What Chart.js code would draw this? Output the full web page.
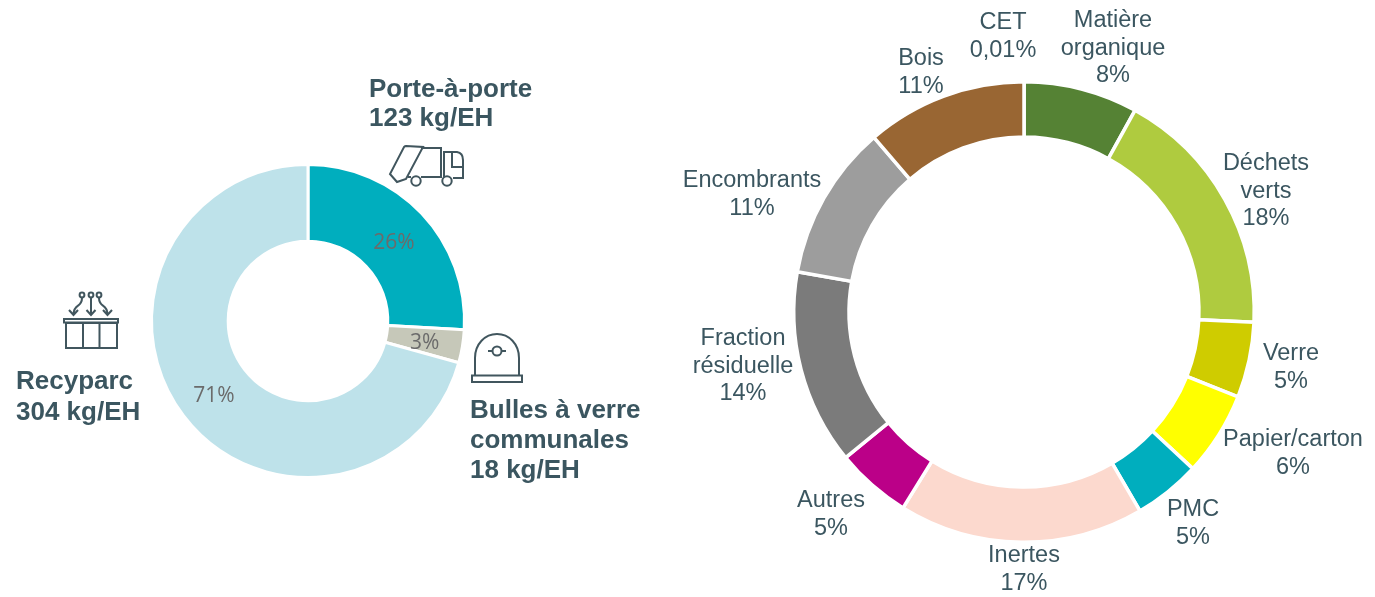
<!DOCTYPE html>
<html lang="fr">
<head>
<meta charset="utf-8">
<title>Collecte des déchets</title>
<script src="https://cdn.jsdelivr.net/npm/chart.js@4"></script>
<style>
  html, body { margin: 0; background: #fff; overflow: hidden; }
  canvas { position: absolute; top: 0; }
  #collecteChart { left: 0; }
  #fluxChart { left: 680px; }
</style>
</head>
<body>
<canvas id="collecteChart" width="680" height="597"></canvas>
<canvas id="fluxChart" width="695" height="597"></canvas>
<script>
// left donut: collection channel
const collecteNames = ['Porte-à-porte', 'Bulles à verre communales', 'Recyparc'];
const collecteShares = [25.9, 3.4, 70.7];
const collecteColors = ['#00AEBE', '#C6C8B9', '#BEE2EA'];

// right donut: waste streams, shares
const fluxNames = ['CET', 'Matière organique', 'Déchets verts', 'Verre', 'Papier/carton', 'PMC',
  'Inertes', 'Autres', 'Fraction résiduelle', 'Encombrants', 'Bois'];
const fluxShares = [0.01, 8, 17.7, 5.3, 5.9, 4.7, 17.2, 5.3, 13.7, 10.9, 11.3];
const fluxPercents = ['0,01%', '8%', '18%', '5%', '6%', '5%', '17%', '5%', '14%', '11%', '11%'];
const fluxColors = ['#FFFFFF', '#558234', '#AFCB3F', '#CFCC00', '#FFFF00', '#00AEBE',
  '#FCD9CE', '#BB0088', '#7B7B7B', '#9D9D9D', '#996633'];

// hand placed text, page coordinates
const fluxLabelLayout = [
  { x: 1003, y: 23, lines: ['CET'] },
  { x: 1113, y: 21, lines: ['Matière', 'organique'] },
  { x: 1266, y: 164, lines: ['Déchets', 'verts'] },
  { x: 1291, y: 354, lines: ['Verre'] },
  { x: 1293, y: 440, lines: ['Papier/carton'] },
  { x: 1193, y: 510, lines: ['PMC'] },
  { x: 1024, y: 556, lines: ['Inertes'] },
  { x: 831, y: 501, lines: ['Autres'] },
  { x: 743, y: 339, lines: ['Fraction', 'résiduelle'] },
  { x: 752, y: 181, lines: ['Encombrants'] },
  { x: 921, y: 59, lines: ['Bois'] }
];
const collecteCallouts = [
  { x: 369, y: 90, step: 29, lines: ['Porte-à-porte', '123 kg/EH'] },
  { x: 470, y: 411, step: 30, lines: ['Bulles à verre', 'communales', '18 kg/EH'] },
  { x: 16, y: 382, step: 31, lines: ['Recyparc', '304 kg/EH'] }
];

const TEXT_COLOR = '#3B5660';
const ICON_COLOR = '#41565E';

function strokePath(ctx, d) {
  ctx.stroke(new Path2D(d));
}

function drawTruck(ctx) {
  strokePath(ctx, 'M406 146 Q405 146 404 147 L390 174 L397 182 L406 179 L423 147 Z');
  strokePath(ctx, 'M421 148 L441 148 L441 177 M408 177 L411 177 M421 177 L442 177');
  strokePath(ctx, 'M444 177 L444 152 L457 152 Q463 153 463 160 L463 178 L453 178 M452 153 L452 167 L463 167');
  ctx.beginPath(); ctx.arc(416, 181, 4.7, 0, Math.PI * 2); ctx.stroke();
  ctx.beginPath(); ctx.arc(447, 181, 4.7, 0, Math.PI * 2); ctx.stroke();
}

function drawRecyparc(ctx) {
  ctx.strokeRect(64, 319, 54, 3.5);
  ctx.strokeRect(66, 323, 51, 25);
  strokePath(ctx, 'M83 323 L83 348 M99.5 323 L99.5 348');
  [82, 91, 99].forEach(cx => {
    ctx.beginPath(); ctx.arc(cx, 295, 2.4, 0, Math.PI * 2); ctx.stroke();
  });
  strokePath(ctx, 'M91 298 L91 314 M86.5 310 L91 315 L95.5 310');
  strokePath(ctx, 'M82 298 C82 308 74 303 73.5 314 M69 310 L73.5 315 L78 310');
  strokePath(ctx, 'M99 298 C99 308 107 303 107.5 314 M103 310 L107.5 315 L112 310');
}

function drawBulle(ctx) {
  strokePath(ctx, 'M475 375 L475 358 C475 344 485 334 497 334 C509 334 519 344 519 358 L519 375');
  ctx.strokeRect(472, 375.5, 50, 6.5);
  ctx.beginPath(); ctx.arc(497, 351, 4.5, 0, Math.PI * 2); ctx.stroke();
  strokePath(ctx, 'M488 351 L492 351 M502 351 L506 351');
}

const collectePlugin = {
  id: 'collecteText',
  afterDraw(chart) {
    const ctx = chart.ctx;
    ctx.save();

    // percentages sit on the middle of each ring segment
    ctx.font = '21px "Open Sans"';
    ctx.fillStyle = '#6B6B6B';
    ctx.textAlign = 'center';
    ctx.textBaseline = 'middle';
    chart.getDatasetMeta(0).data.forEach((arc, i) => {
      const p = arc.getCenterPoint();
      ctx.fillText(Math.round(collecteShares[i]) + '%', p.x, p.y + 3);
    });

    ctx.font = 'bold 26px "Liberation Sans"';
    ctx.fillStyle = TEXT_COLOR;
    ctx.textAlign = 'left';
    collecteCallouts.forEach(c => {
      c.lines.forEach((line, i) => ctx.fillText(line, c.x, c.y + i * c.step));
    });

    ctx.strokeStyle = ICON_COLOR;
    ctx.lineWidth = 2;
    drawTruck(ctx);
    drawRecyparc(ctx);
    drawBulle(ctx);
    ctx.restore();
  }
};

const fluxPlugin = {
  id: 'fluxText',
  afterDraw(chart) {
    const ctx = chart.ctx;
    ctx.save();
    ctx.translate(-680, 0);
    ctx.font = '23.5px "Liberation Sans"';
    ctx.fillStyle = TEXT_COLOR;
    ctx.textAlign = 'center';
    ctx.textBaseline = 'middle';
    fluxLabelLayout.forEach((lab, i) => {
      const rows = lab.lines.concat(fluxPercents[i]);
      rows.forEach((row, r) => ctx.fillText(row, lab.x, lab.y + r * 27.5));
    });
    ctx.restore();
  }
};

new Chart(document.getElementById('collecteChart'), {
  type: 'doughnut',
  data: {
    labels: collecteNames,
    datasets: [{
      data: collecteShares,
      backgroundColor: collecteColors,
      borderColor: '#FFFFFF',
      borderWidth: 3
    }]
  },
  options: {
    responsive: false,
    animation: false,
    cutout: '51%',
    layout: { padding: { left: 150, top: 163, right: 214, bottom: 118 } },
    plugins: { legend: { display: false }, tooltip: { enabled: false } }
  },
  plugins: [collectePlugin]
});

new Chart(document.getElementById('fluxChart'), {
  type: 'doughnut',
  data: {
    labels: fluxNames,
    datasets: [{
      data: fluxShares,
      backgroundColor: fluxColors,
      borderColor: '#FFFFFF',
      borderWidth: 3.5
    }]
  },
  options: {
    responsive: false,
    animation: false,
    cutout: '76%',
    layout: { padding: { left: 112, top: 80, right: 119, bottom: 53 } },
    plugins: { legend: { display: false }, tooltip: { enabled: false } }
  },
  plugins: [fluxPlugin]
});
</script>
</body>
</html>
